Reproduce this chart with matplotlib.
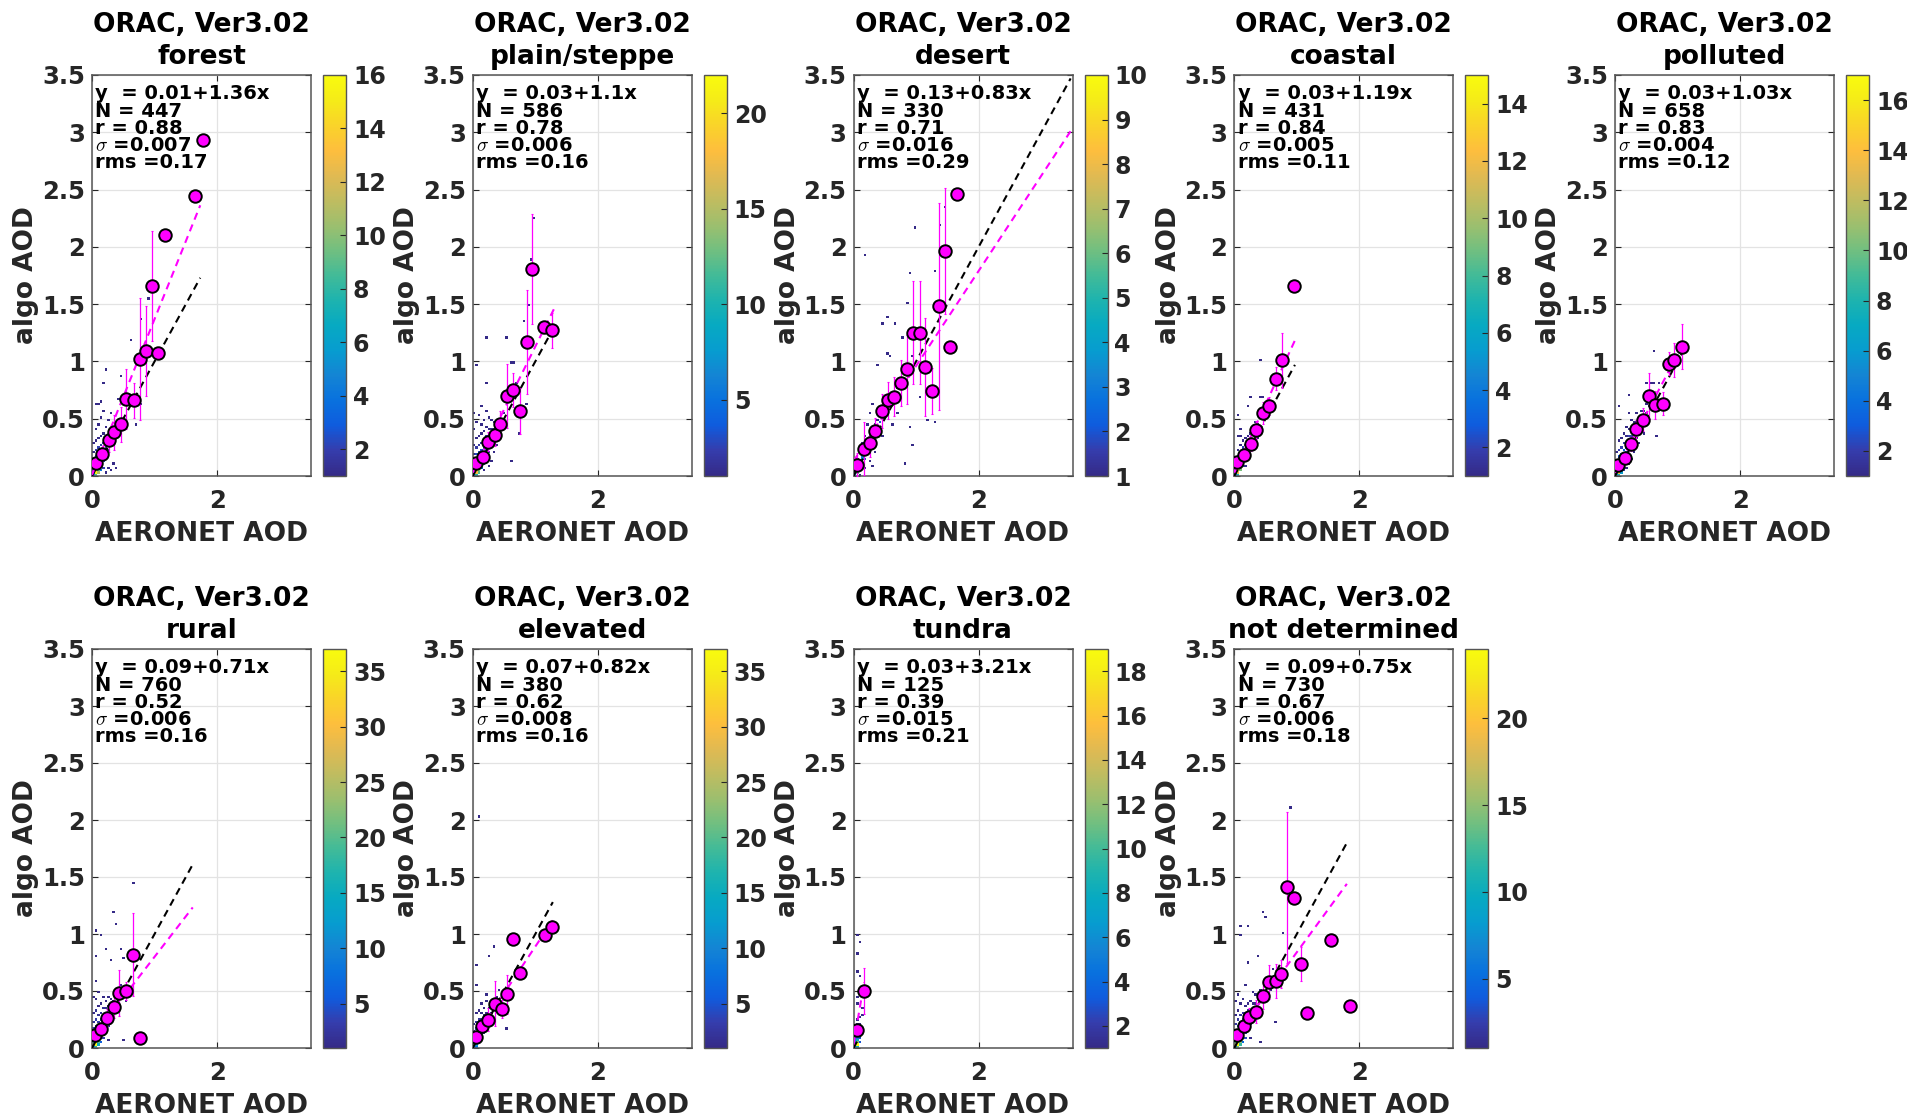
import numpy as np
import matplotlib
matplotlib.use('Agg')
import matplotlib.pyplot as plt
from matplotlib.colors import LinearSegmentedColormap, Normalize
from matplotlib.cm import ScalarMappable

plt.rcParams['font.family'] = ['DejaVu Sans']
plt.rcParams['font.weight'] = 'bold'
plt.rcParams['axes.labelweight'] = 'bold'
plt.rcParams['mathtext.fontset'] = 'cm'

# ---------------- data ----------------
PANELS = ['forest', 'plain/steppe', 'desert', 'coastal', 'polluted',
          'rural', 'elevated', 'tundra', 'not determined']
FIT_A = [0.01, 0.03, 0.13, 0.03, 0.03, 0.09, 0.07, 0.03, 0.09]
FIT_B = ['1.36', '1.1', '0.83', '1.19', '1.03', '0.71', '0.82', '3.21', '0.75']
N_PTS = [447, 586, 330, 431, 658, 760, 380, 125, 730]
R_VAL = ['0.88', '0.78', '0.71', '0.84', '0.83', '0.52', '0.62', '0.39', '0.67']
SIGMA = ['0.007', '0.006', '0.016', '0.005', '0.004', '0.006', '0.008', '0.015', '0.006']
RMS = ['0.17', '0.16', '0.29', '0.11', '0.12', '0.16', '0.16', '0.21', '0.18']
X_MAX = [1.73, 1.30, 3.47, 0.97, 1.08, 1.61, 1.28, 0.17, 1.80]
C_MAX = [16, 22, 10, 15, 17, 37, 37, 19, 24]
CB_TICKS = [[2, 4, 6, 8, 10, 12, 14, 16], [5, 10, 15, 20], [1, 2, 3, 4, 5, 6, 7, 8, 9, 10],
            [2, 4, 6, 8, 10, 12, 14], [2, 4, 6, 8, 10, 12, 14, 16], [5, 10, 15, 20, 25, 30, 35],
            [5, 10, 15, 20, 25, 30, 35], [2, 4, 6, 8, 10, 12, 14, 16, 18], [5, 10, 15, 20]]
Y_TICKS = [0, 0.5, 1, 1.5, 2, 2.5, 3, 3.5]
Y_TICKLABELS = ['0', '0.5', '1', '1.5', '2', '2.5', '3', '3.5']
X_TICKS = [0, 2]
X_TICKLABELS = ['0', '2']

# bin means (AERONET, algo) and spread
BIN_X = [
    [0.06, 0.165, 0.27, 0.35, 0.46, 0.55, 0.67, 0.77, 0.86, 0.96, 1.05, 1.165, 1.65, 1.77],
    [0.048, 0.17, 0.25, 0.35, 0.44, 0.55, 0.65, 0.76, 0.86, 0.95, 1.14, 1.26],
    [0.054, 0.16, 0.27, 0.35, 0.46, 0.55, 0.65, 0.76, 0.86, 0.95, 1.06, 1.15, 1.26, 1.37, 1.46, 1.55, 1.66],
    [0.05, 0.16, 0.26, 0.35, 0.46, 0.56, 0.67, 0.76, 0.95],
    [0.043, 0.16, 0.26, 0.34, 0.44, 0.55, 0.64, 0.77, 0.86, 0.95, 1.07],
    [0.04, 0.15, 0.24, 0.35, 0.43, 0.55, 0.65, 0.76],
    [0.048, 0.15, 0.25, 0.35, 0.46, 0.55, 0.65, 0.76, 1.15, 1.26],
    [0.054, 0.166],
    [0.043, 0.16, 0.24, 0.35, 0.46, 0.55, 0.66, 0.75, 0.85, 0.96, 1.06, 1.16, 1.55, 1.85],
]
BIN_Y = [
    [0.11, 0.19, 0.31, 0.38, 0.45, 0.67, 0.66, 1.02, 1.09, 1.66, 1.07, 2.10, 2.44, 2.93],
    [0.11, 0.17, 0.30, 0.36, 0.45, 0.70, 0.75, 0.57, 1.17, 1.81, 1.30, 1.27],
    [0.097, 0.24, 0.29, 0.39, 0.57, 0.66, 0.69, 0.81, 0.93, 1.25, 1.25, 0.95, 0.74, 1.48, 1.96, 1.13, 2.46],
    [0.12, 0.18, 0.28, 0.40, 0.55, 0.61, 0.85, 1.01, 1.66],
    [0.10, 0.16, 0.28, 0.41, 0.49, 0.70, 0.62, 0.63, 0.98, 1.01, 1.13],
    [0.116, 0.165, 0.26, 0.36, 0.48, 0.50, 0.82, 0.085],
    [0.097, 0.196, 0.25, 0.39, 0.34, 0.47, 0.96, 0.66, 0.99, 1.06],
    [0.16, 0.50],
    [0.116, 0.195, 0.27, 0.32, 0.46, 0.58, 0.59, 0.65, 1.41, 1.32, 0.74, 0.31, 0.95, 0.37],
]
BIN_E = [
    [0.04, 0.06, 0.10, 0.15, 0.15, 0.26, 0.15, 0.53, 0.39, 0.48, 0.0, 0.0, 0.0, 0.0],
    [0.04, 0.05, 0.08, 0.10, 0.12, 0.28, 0.15, 0.20, 0.45, 0.48, 0.05, 0.15],
    [0.10, 0.23, 0.12, 0.12, 0.15, 0.16, 0.17, 0.20, 0.30, 0.45, 0.45, 0.43, 0.20, 0.90, 0.55, 0.0, 0.0],
    [0.03, 0.05, 0.06, 0.08, 0.10, 0.08, 0.10, 0.24, 0.0],
    [0.03, 0.05, 0.06, 0.08, 0.10, 0.20, 0.12, 0.10, 0.10, 0.15, 0.20],
    [0.04, 0.06, 0.08, 0.10, 0.20, 0.08, 0.36, 0.0],
    [0.05, 0.06, 0.10, 0.20, 0.08, 0.17, 0.0, 0.05, 0.03, 0.03],
    [0.05, 0.20],
    [0.04, 0.06, 0.08, 0.10, 0.12, 0.15, 0.15, 0.12, 0.66, 0.0, 0.15, 0.0, 0.05, 0.0],
]

# 2-D histogram cells: (AERONET AOD, algo AOD, count)
FOREST_HIST = [
    (0.02, 0.01, 5), (0.02, 0.03, 7), (0.02, 0.05, 6), (0.02, 0.07, 4), (0.02, 0.09, 3), (0.02, 0.11, 2),
    (0.02, 0.15, 2), (0.02, 0.21, 1), (0.02, 0.29, 1),
    (0.06, 0.01, 9), (0.06, 0.03, 16), (0.06, 0.05, 13), (0.06, 0.07, 10), (0.06, 0.09, 7), (0.06, 0.11, 5),
    (0.06, 0.13, 4), (0.06, 0.17, 3), (0.06, 0.23, 2), (0.06, 0.31, 1), (0.06, 0.41, 1), (0.06, 0.63, 1),
    (0.10, 0.03, 11), (0.10, 0.05, 9), (0.10, 0.07, 8), (0.10, 0.09, 6), (0.10, 0.11, 6), (0.10, 0.13, 5),
    (0.10, 0.15, 4), (0.10, 0.19, 3), (0.10, 0.25, 2), (0.10, 0.33, 1), (0.10, 0.45, 1), (0.10, 0.63, 1),
    (0.14, 0.05, 4), (0.14, 0.09, 5), (0.14, 0.13, 4), (0.14, 0.15, 4), (0.14, 0.17, 3), (0.14, 0.21, 3),
    (0.14, 0.27, 2), (0.14, 0.35, 1), (0.14, 0.51, 1), (0.14, 0.64, 1),
    (0.18, 0.07, 2), (0.18, 0.13, 3), (0.18, 0.19, 3), (0.18, 0.23, 2), (0.18, 0.29, 2), (0.18, 0.37, 1),
    (0.18, 0.57, 1), (0.18, 0.81, 1),
    (0.22, 0.03, 1), (0.22, 0.17, 2), (0.22, 0.25, 2), (0.22, 0.31, 2), (0.22, 0.43, 1), (0.22, 0.93, 1),
    (0.26, 0.07, 1), (0.26, 0.23, 1), (0.26, 0.29, 2), (0.26, 0.35, 1), (0.26, 0.49, 1),
    (0.30, 0.05, 1), (0.30, 0.31, 1), (0.30, 0.37, 1), (0.30, 0.55, 1),
    (0.34, 0.11, 1), (0.34, 0.41, 1), (0.38, 0.07, 1), (0.38, 0.45, 1), (0.42, 0.66, 1), (0.46, 0.87, 1),
    (0.46, 0.37, 1), (0.54, 0.63, 1), (0.61, 1.18, 1), (0.69, 0.45, 1), (0.76, 1.38, 1), (0.79, 0.63, 1),
    (0.91, 1.54, 1),
]
PLAIN_HIST = [
    (0.02, 0.01, 6), (0.02, 0.03, 9), (0.02, 0.05, 8), (0.02, 0.07, 5), (0.02, 0.09, 4), (0.02, 0.13, 2),
    (0.02, 0.19, 1), (0.02, 0.27, 1), (0.02, 0.41, 1), (0.02, 0.55, 1), (0.04, 0.96, 1),
    (0.06, 0.01, 10), (0.06, 0.03, 18), (0.06, 0.05, 22), (0.06, 0.07, 15), (0.06, 0.09, 11), (0.06, 0.11, 8),
    (0.06, 0.13, 6), (0.06, 0.15, 4), (0.06, 0.19, 3), (0.06, 0.25, 2), (0.06, 0.33, 1), (0.06, 0.47, 1),
    (0.10, 0.03, 12), (0.10, 0.05, 14), (0.10, 0.07, 12), (0.10, 0.09, 10), (0.10, 0.11, 8), (0.10, 0.13, 7),
    (0.10, 0.15, 6), (0.10, 0.17, 4), (0.10, 0.21, 3), (0.10, 0.27, 2), (0.10, 0.35, 1), (0.10, 0.53, 1),
    (0.14, 0.07, 5), (0.14, 0.11, 6), (0.14, 0.15, 6), (0.14, 0.17, 5), (0.14, 0.19, 4), (0.14, 0.23, 3),
    (0.14, 0.29, 2), (0.14, 0.37, 1), (0.14, 0.45, 1), (0.14, 0.61, 1),
    (0.18, 0.11, 3), (0.18, 0.17, 4), (0.18, 0.21, 4), (0.18, 0.25, 3), (0.18, 0.31, 2), (0.18, 0.39, 1),
    (0.18, 0.49, 1), (0.18, 0.05, 1),
    (0.22, 0.15, 2), (0.22, 0.23, 3), (0.22, 0.29, 3), (0.22, 0.35, 2), (0.22, 0.43, 1), (0.22, 0.57, 1),
    (0.22, 0.82, 1), (0.21, 1.21, 1),
    (0.26, 0.21, 2), (0.26, 0.29, 2), (0.26, 0.35, 2), (0.26, 0.41, 1), (0.26, 0.51, 1), (0.26, 0.09, 1),
    (0.30, 0.27, 1), (0.30, 0.35, 2), (0.30, 0.41, 1), (0.30, 0.49, 1), (0.30, 0.13, 1),
    (0.34, 0.33, 1), (0.34, 0.41, 1), (0.34, 0.47, 1), (0.34, 0.21, 1), (0.38, 0.39, 1), (0.38, 0.45, 1),
    (0.38, 0.27, 1), (0.42, 0.47, 1), (0.42, 0.35, 1),
    (0.53, 1.21, 1), (0.60, 0.13, 1), (0.62, 0.98, 1), (0.66, 0.98, 1), (0.75, 0.37, 1), (0.83, 1.34, 1),
    (0.87, 0.63, 1), (0.90, 1.49, 1), (0.94, 1.89, 1), (0.99, 2.24, 1), (0.50, 0.55, 1), (0.58, 0.69, 1),
    (0.70, 0.81, 1),
]
DESERT_HIST = [
    (0.02, 0.01, 3), (0.02, 0.03, 5), (0.06, 0.03, 6), (0.06, 0.05, 8), (0.06, 0.07, 10), (0.06, 0.09, 6),
    (0.10, 0.07, 5), (0.10, 0.09, 6), (0.10, 0.11, 4), (0.10, 0.13, 3), (0.14, 0.11, 3), (0.14, 0.15, 4),
    (0.14, 0.17, 3), (0.14, 0.21, 2), (0.18, 0.15, 2), (0.18, 0.19, 3), (0.18, 0.23, 2), (0.18, 0.27, 2),
    (0.22, 0.21, 2), (0.22, 0.25, 3), (0.22, 0.29, 2), (0.26, 0.25, 2), (0.26, 0.31, 2), (0.26, 0.35, 1),
    (0.30, 0.29, 2), (0.30, 0.35, 2), (0.30, 0.41, 1), (0.34, 0.33, 1), (0.34, 0.39, 2), (0.34, 0.45, 1),
    (0.38, 0.37, 1), (0.38, 0.43, 2), (0.38, 0.49, 1), (0.42, 0.41, 1), (0.42, 0.47, 2), (0.42, 0.53, 1),
    (0.46, 0.51, 1), (0.46, 0.57, 1), (0.50, 0.55, 1), (0.50, 0.61, 1), (0.54, 0.59, 1), (0.54, 0.65, 1),
    (0.58, 0.63, 1), (0.62, 0.69, 1), (0.66, 0.73, 1), (0.70, 0.77, 1), (0.74, 0.81, 1), (0.06, 0.15, 1),
    (0.10, 0.21, 1), (0.14, 0.29, 1), (0.18, 0.35, 1), (0.22, 0.45, 1), (0.26, 0.55, 1), (0.30, 0.63, 1),
    (0.10, 0.01, 1), (0.18, 0.07, 1), (0.26, 0.13, 1), (0.34, 0.21, 1), (0.31, 0.08, 1),
    (0.19, 1.92, 1), (0.96, 2.17, 1), (1.47, 2.34, 1), (0.91, 1.76, 1), (0.84, 1.50, 1), (0.55, 1.39, 1),
    (0.47, 1.32, 1), (0.66, 1.32, 1), (0.78, 1.21, 1), (0.53, 1.06, 1), (0.59, 1.04, 1), (0.39, 0.96, 1),
    (1.31, 1.78, 1), (1.36, 2.19, 1), (0.80, 0.10, 1), (0.95, 0.26, 1), (0.91, 0.43, 1), (1.18, 0.48, 1),
    (1.31, 0.46, 1), (0.70, 0.55, 1), (0.62, 0.45, 1), (0.46, 0.35, 1), (0.85, 0.90, 1), (0.95, 1.05, 1),
    (1.05, 0.70, 1),
]
COASTAL_HIST = [
    (0.02, 0.01, 4), (0.02, 0.03, 6), (0.02, 0.05, 5), (0.02, 0.07, 3), (0.02, 0.11, 2),
    (0.06, 0.01, 7), (0.06, 0.03, 12), (0.06, 0.05, 15), (0.06, 0.07, 11), (0.06, 0.09, 8), (0.06, 0.11, 5),
    (0.06, 0.13, 4), (0.06, 0.17, 2), (0.06, 0.23, 1),
    (0.10, 0.05, 9), (0.10, 0.07, 10), (0.10, 0.09, 8), (0.10, 0.11, 6), (0.10, 0.13, 5), (0.10, 0.15, 4),
    (0.10, 0.19, 2), (0.10, 0.27, 1), (0.10, 0.35, 1),
    (0.14, 0.09, 4), (0.14, 0.13, 5), (0.14, 0.15, 5), (0.14, 0.17, 4), (0.14, 0.21, 3), (0.14, 0.25, 2),
    (0.14, 0.31, 1),
    (0.18, 0.15, 3), (0.18, 0.19, 4), (0.18, 0.23, 3), (0.18, 0.27, 2), (0.18, 0.33, 1), (0.18, 0.09, 1),
    (0.22, 0.19, 2), (0.22, 0.25, 3), (0.22, 0.29, 2), (0.22, 0.35, 1), (0.23, 0.61, 1),
    (0.26, 0.25, 2), (0.26, 0.31, 2), (0.26, 0.37, 1), (0.25, 0.68, 1),
    (0.30, 0.31, 1), (0.30, 0.37, 2), (0.30, 0.43, 1), (0.33, 0.27, 1), (0.34, 0.41, 1), (0.34, 0.47, 1),
    (0.38, 0.45, 1), (0.38, 0.33, 1), (0.42, 0.68, 1), (0.41, 1.01, 1), (0.46, 0.70, 1), (0.05, 0.52, 1),
    (0.04, 0.35, 1), (0.08, 0.41, 1), (0.50, 0.55, 1),
]
POLLUTED_HIST = [
    (0.02, 0.01, 5), (0.02, 0.03, 8), (0.02, 0.05, 7), (0.02, 0.07, 5), (0.02, 0.09, 3), (0.02, 0.13, 2),
    (0.02, 0.21, 1),
    (0.06, 0.01, 8), (0.06, 0.03, 14), (0.06, 0.05, 17), (0.06, 0.07, 13), (0.06, 0.09, 10), (0.06, 0.11, 7),
    (0.06, 0.13, 5), (0.06, 0.17, 3), (0.06, 0.23, 2), (0.06, 0.31, 1), (0.06, 0.60, 1),
    (0.10, 0.05, 10), (0.10, 0.07, 11), (0.10, 0.09, 10), (0.10, 0.11, 8), (0.10, 0.13, 7), (0.10, 0.15, 5),
    (0.10, 0.19, 4), (0.10, 0.25, 2), (0.10, 0.33, 1), (0.10, 0.03, 6),
    (0.14, 0.09, 5), (0.14, 0.13, 6), (0.14, 0.15, 6), (0.14, 0.17, 5), (0.14, 0.19, 4), (0.14, 0.23, 3),
    (0.14, 0.29, 2), (0.14, 0.37, 1), (0.14, 0.05, 2),
    (0.18, 0.13, 3), (0.18, 0.17, 4), (0.18, 0.21, 4), (0.18, 0.25, 3), (0.18, 0.29, 2), (0.18, 0.35, 1),
    (0.18, 0.43, 1), (0.18, 0.07, 1),
    (0.22, 0.19, 3), (0.22, 0.25, 3), (0.22, 0.29, 3), (0.22, 0.35, 2), (0.22, 0.41, 1), (0.21, 0.71, 1),
    (0.23, 0.54, 1), (0.22, 0.11, 1),
    (0.26, 0.23, 2), (0.26, 0.29, 2), (0.26, 0.35, 2), (0.26, 0.41, 1), (0.26, 0.49, 1), (0.26, 0.15, 1),
    (0.30, 0.29, 2), (0.30, 0.35, 2), (0.30, 0.41, 2), (0.30, 0.47, 1), (0.30, 0.21, 1),
    (0.34, 0.33, 1), (0.34, 0.41, 2), (0.34, 0.47, 1), (0.34, 0.55, 1), (0.38, 0.39, 1), (0.38, 0.45, 1),
    (0.38, 0.51, 1), (0.38, 0.29, 1), (0.42, 0.43, 1), (0.42, 0.51, 1), (0.42, 0.57, 1), (0.46, 0.49, 1),
    (0.46, 0.57, 1), (0.46, 0.37, 1), (0.50, 0.55, 1), (0.50, 0.63, 1), (0.54, 0.61, 1), (0.58, 0.67, 1),
    (0.48, 0.82, 1), (0.70, 0.82, 1), (0.62, 1.09, 1), (0.67, 0.35, 1), (0.56, 0.82, 1), (0.62, 0.82, 1),
]
RURAL_HIST = [
    (0.02, 0.01, 14), (0.02, 0.03, 22), (0.02, 0.05, 18), (0.02, 0.07, 12), (0.02, 0.09, 8), (0.02, 0.11, 6),
    (0.02, 0.13, 4), (0.02, 0.17, 3), (0.02, 0.23, 2), (0.02, 0.31, 1), (0.02, 0.45, 1),
    (0.06, 0.01, 18), (0.06, 0.03, 37), (0.06, 0.05, 30), (0.06, 0.07, 22), (0.06, 0.09, 16), (0.06, 0.11, 11),
    (0.06, 0.13, 8), (0.06, 0.15, 6), (0.06, 0.19, 4), (0.06, 0.25, 3), (0.06, 0.33, 2), (0.06, 0.43, 1),
    (0.06, 0.58, 1), (0.06, 0.81, 1),
    (0.10, 0.03, 15), (0.10, 0.05, 20), (0.10, 0.07, 16), (0.10, 0.09, 13), (0.10, 0.11, 10), (0.10, 0.13, 8),
    (0.10, 0.15, 6), (0.10, 0.19, 5), (0.10, 0.23, 3), (0.10, 0.29, 2), (0.10, 0.37, 1), (0.10, 0.49, 1),
    (0.14, 0.05, 6), (0.14, 0.09, 8), (0.14, 0.13, 7), (0.14, 0.15, 6), (0.14, 0.17, 5), (0.14, 0.21, 4),
    (0.14, 0.25, 3), (0.14, 0.31, 2), (0.14, 0.39, 1), (0.14, 0.98, 1),
    (0.18, 0.09, 3), (0.18, 0.13, 4), (0.18, 0.17, 4), (0.18, 0.21, 4), (0.18, 0.25, 3), (0.18, 0.29, 2),
    (0.18, 0.35, 2), (0.18, 0.45, 1),
    (0.22, 0.13, 2), (0.22, 0.19, 3), (0.22, 0.25, 3), (0.22, 0.29, 2), (0.22, 0.35, 2), (0.22, 0.41, 1),
    (0.23, 0.87, 1),
    (0.26, 0.19, 2), (0.26, 0.25, 2), (0.26, 0.31, 2), (0.26, 0.37, 1), (0.26, 0.45, 1), (0.26, 0.07, 1),
    (0.30, 0.23, 1), (0.30, 0.29, 2), (0.30, 0.35, 1), (0.30, 0.43, 1), (0.30, 0.77, 1),
    (0.34, 0.27, 1), (0.34, 0.33, 1), (0.34, 0.41, 1), (0.35, 1.19, 1), (0.38, 0.31, 1), (0.38, 0.39, 1),
    (0.39, 1.08, 1), (0.42, 0.35, 1), (0.42, 0.45, 1), (0.47, 0.86, 1), (0.49, 0.79, 1), (0.49, 0.07, 1),
    (0.05, 1.03, 1), (0.64, 1.44, 1), (0.46, 0.55, 1), (0.54, 0.41, 1),
]
ELEVATED_HIST = [
    (0.02, 0.01, 10), (0.02, 0.03, 20), (0.02, 0.05, 14), (0.02, 0.07, 9), (0.02, 0.09, 6), (0.02, 0.11, 4),
    (0.02, 0.15, 2), (0.02, 0.21, 1),
    (0.06, 0.01, 8), (0.06, 0.03, 12), (0.06, 0.05, 16), (0.06, 0.07, 12), (0.06, 0.09, 8), (0.06, 0.11, 6),
    (0.06, 0.13, 4), (0.06, 0.17, 3), (0.06, 0.23, 2), (0.06, 0.31, 1), (0.05, 0.54, 1), (0.04, 0.72, 1),
    (0.10, 0.05, 6), (0.10, 0.09, 7), (0.10, 0.11, 6), (0.10, 0.13, 5), (0.10, 0.15, 4), (0.10, 0.19, 3),
    (0.10, 0.25, 2), (0.10, 0.33, 1), (0.10, 2.02, 1),
    (0.14, 0.09, 3), (0.14, 0.13, 4), (0.14, 0.17, 4), (0.14, 0.21, 3), (0.14, 0.25, 2), (0.14, 0.31, 1),
    (0.14, 0.39, 1),
    (0.18, 0.13, 2), (0.18, 0.19, 2), (0.18, 0.23, 2), (0.18, 0.29, 1), (0.18, 0.35, 1), (0.20, 0.47, 1),
    (0.22, 0.19, 1), (0.22, 0.25, 2), (0.22, 0.31, 1), (0.22, 0.41, 1), (0.26, 0.23, 1), (0.26, 0.29, 1),
    (0.26, 0.35, 1), (0.27, 0.82, 1), (0.30, 0.31, 1), (0.30, 0.41, 1), (0.35, 0.88, 1), (0.42, 0.51, 1),
    (0.54, 0.16, 1), (0.34, 0.23, 1), (0.38, 0.45, 1),
]
TUNDRA_HIST = [
    (0.02, 0.01, 6), (0.02, 0.03, 10), (0.02, 0.05, 7), (0.02, 0.07, 4), (0.02, 0.09, 3),
    (0.06, 0.01, 8), (0.06, 0.03, 19), (0.06, 0.05, 12), (0.06, 0.07, 8), (0.06, 0.09, 5), (0.06, 0.11, 4),
    (0.06, 0.13, 3), (0.06, 0.15, 3), (0.06, 0.17, 2), (0.06, 0.21, 2), (0.06, 0.25, 1),
    (0.10, 0.05, 3), (0.10, 0.09, 3), (0.10, 0.13, 2), (0.10, 0.17, 2), (0.10, 0.21, 1), (0.10, 0.27, 1),
    (0.13, 0.28, 1), (0.06, 0.39, 1), (0.05, 0.66, 1), (0.10, 0.63, 1), (0.05, 0.83, 1), (0.11, 0.93, 1),
    (0.05, 0.98, 1), (0.06, 0.45, 1), (0.14, 0.35, 1),
]
NOTDET_HIST = [
    (0.02, 0.01, 10), (0.02, 0.03, 16), (0.02, 0.05, 13), (0.02, 0.07, 9), (0.02, 0.09, 6), (0.02, 0.11, 4),
    (0.02, 0.15, 3), (0.02, 0.21, 2), (0.02, 0.29, 1), (0.02, 0.41, 1),
    (0.06, 0.01, 14), (0.06, 0.03, 24), (0.06, 0.05, 21), (0.06, 0.07, 16), (0.06, 0.09, 12), (0.06, 0.11, 9),
    (0.06, 0.13, 7), (0.06, 0.15, 5), (0.06, 0.19, 4), (0.06, 0.25, 2), (0.06, 0.33, 1), (0.06, 0.47, 1),
    (0.10, 0.03, 12), (0.10, 0.05, 15), (0.10, 0.07, 13), (0.10, 0.09, 11), (0.10, 0.11, 9), (0.10, 0.13, 7),
    (0.10, 0.15, 6), (0.10, 0.19, 4), (0.10, 0.23, 3), (0.10, 0.29, 2), (0.10, 0.39, 1), (0.11, 0.98, 1),
    (0.14, 0.05, 5), (0.14, 0.09, 7), (0.14, 0.13, 7), (0.14, 0.15, 6), (0.14, 0.17, 5), (0.14, 0.21, 4),
    (0.14, 0.25, 3), (0.14, 0.31, 2), (0.14, 0.43, 1),
    (0.18, 0.09, 3), (0.18, 0.13, 4), (0.18, 0.17, 4), (0.18, 0.21, 4), (0.18, 0.25, 3), (0.18, 0.31, 2),
    (0.18, 0.37, 1), (0.18, 0.55, 1),
    (0.22, 0.15, 2), (0.22, 0.21, 3), (0.22, 0.27, 3), (0.22, 0.33, 2), (0.22, 0.39, 1), (0.22, 0.75, 1),
    (0.22, 1.07, 1),
    (0.26, 0.21, 2), (0.26, 0.27, 2), (0.26, 0.33, 2), (0.26, 0.41, 1), (0.26, 0.09, 1),
    (0.30, 0.27, 1), (0.30, 0.33, 2), (0.30, 0.39, 1), (0.30, 0.49, 1),
    (0.34, 0.31, 1), (0.34, 0.39, 1), (0.34, 0.47, 1), (0.38, 0.35, 1), (0.38, 0.45, 1), (0.38, 0.81, 1),
    (0.42, 0.41, 1), (0.42, 0.51, 1), (0.43, 0.05, 1), (0.46, 0.47, 1), (0.46, 1.18, 1), (0.51, 1.15, 1),
    (0.50, 0.55, 1), (0.54, 0.61, 1), (0.58, 0.51, 1), (0.66, 0.23, 1), (0.77, 1.00, 1), (0.88, 2.11, 1),
    (0.08, 1.07, 1), (0.62, 0.70, 1),
]
HISTS = [FOREST_HIST, PLAIN_HIST, DESERT_HIST, COASTAL_HIST, POLLUTED_HIST,
         RURAL_HIST, ELEVATED_HIST, TUNDRA_HIST, NOTDET_HIST]

# ---------------- style ----------------
PARULA = [
    (0.2081, 0.1663, 0.5292), (0.2081, 0.2386, 0.6771), (0.0591, 0.3598, 0.8683),
    (0.0329, 0.4430, 0.8720), (0.0793, 0.5200, 0.8312), (0.0265, 0.6137, 0.8135),
    (0.0267, 0.6642, 0.7607), (0.1133, 0.7015, 0.6859), (0.2586, 0.7317, 0.5954),
    (0.4420, 0.7481, 0.5033), (0.6099, 0.7473, 0.4337), (0.7525, 0.7384, 0.3768),
    (0.8824, 0.7274, 0.3217), (0.9938, 0.7455, 0.2403), (0.9789, 0.8271, 0.1633),
    (0.9598, 0.9218, 0.0948), (0.9763, 0.9831, 0.0538),
]
cmap = LinearSegmentedColormap.from_list('parula', PARULA)
MAGENTA = '#ff00ff'
TICKC = '#262626'

W, H = 1907, 1115
fig = plt.figure(figsize=(W / 100, H / 100), dpi=100)


def rect(l, t, w, h):
    return [l / W, 1 - (t + h) / H, w / W, h / H]


COL_LEFT = [92, 472.75, 853.5, 1234.25, 1615]
ROW_TOP = [75, 649]
ROW_H = [401, 399]
AX_W = 219

xe = np.linspace(0, 3.52, 89)
ye = np.linspace(0, 3.5, 176)

for i, name in enumerate(PANELS):
    row = 0 if i < 5 else 1
    col = i if i < 5 else i - 5
    left, top, h = COL_LEFT[col], ROW_TOP[row], ROW_H[row]
    ax = fig.add_axes(rect(left, top, AX_W, h))
    norm = Normalize(1, C_MAX[i])

    hx = [c[0] for c in HISTS[i]]
    hy = [c[1] for c in HISTS[i]]
    hn = [c[2] for c in HISTS[i]]
    Hc, _, _ = np.histogram2d(hx, hy, bins=[xe, ye], weights=hn)
    ax.pcolormesh(xe, ye, np.ma.masked_equal(Hc.T, 0), cmap=cmap, norm=norm, zorder=2)

    xx = np.array([0.0, X_MAX[i]])
    ax.plot(xx, xx, color='k', ls=(0, (3.5, 2.5)), lw=1.5, zorder=3)
    ax.plot(xx, FIT_A[i] + float(FIT_B[i]) * xx, color=MAGENTA, ls=(0, (3.5, 2.5)), lw=1.5, zorder=3)

    ax.errorbar(BIN_X[i], BIN_Y[i], yerr=BIN_E[i], fmt='none', ecolor=MAGENTA,
                elinewidth=0.9, capsize=1.0, capthick=0.8, zorder=4)
    ax.plot(BIN_X[i], BIN_Y[i], 'o', mfc=MAGENTA, mec='k', ms=9, mew=1.4, zorder=5)

    ax.set_xlim(0, 3.5)
    ax.set_ylim(0, 3.5)
    ax.set_xticks(X_TICKS)
    ax.set_xticklabels(X_TICKLABELS)
    ax.set_yticks(Y_TICKS)
    ax.set_yticklabels(Y_TICKLABELS)
    ax.grid(True, color='#e3e3e3', lw=0.9)
    ax.set_axisbelow(True)
    ax.tick_params(axis='both', direction='in', length=4, width=0.8, colors=TICKC,
                   labelsize=17.5, top=True, right=True)
    ax.tick_params(axis='x', pad=9)
    ax.tick_params(axis='y', pad=5)
    for s in ax.spines.values():
        s.set_color('#555555')
        s.set_linewidth(1.1)
    ax.set_xlabel('AERONET AOD', fontsize=19, color=TICKC, labelpad=6)
    ax.set_ylabel('algo AOD', fontsize=19, color=TICKC, labelpad=2)

    ax.annotate('ORAC, Ver3.02', xy=(0.5, 1), xycoords='axes fraction', xytext=(0, 31),
                textcoords='offset points', ha='center', va='baseline', fontsize=19)
    ax.annotate(name, xy=(0.5, 1), xycoords='axes fraction', xytext=(0, 8),
                textcoords='offset points', ha='center', va='baseline', fontsize=19)

    lines = ['y  = %.2f+%sx' % (FIT_A[i], FIT_B[i]),
             'N = %d' % N_PTS[i],
             'r = %s' % R_VAL[i],
             r'$\sigma$ =%s' % SIGMA[i],
             'rms =%s' % RMS[i]]
    for k, txt in enumerate(lines):
        ax.annotate(txt, xy=(0, 1), xycoords='axes fraction', xytext=(2.5, -17.5 - 12.4 * k),
                    textcoords='offset points', ha='left', va='baseline', fontsize=14, zorder=6)

    cax = fig.add_axes(rect(left + 231, top, 23, h))
    cb = fig.colorbar(ScalarMappable(norm=norm, cmap=cmap), cax=cax, ticks=CB_TICKS[i])
    cb.outline.set_edgecolor('#555555')
    cb.outline.set_linewidth(1.0)
    cax.tick_params(direction='in', length=4, width=0.8, colors=TICKC, labelsize=17, pad=5)

fig.savefig('out.png', dpi=100)
